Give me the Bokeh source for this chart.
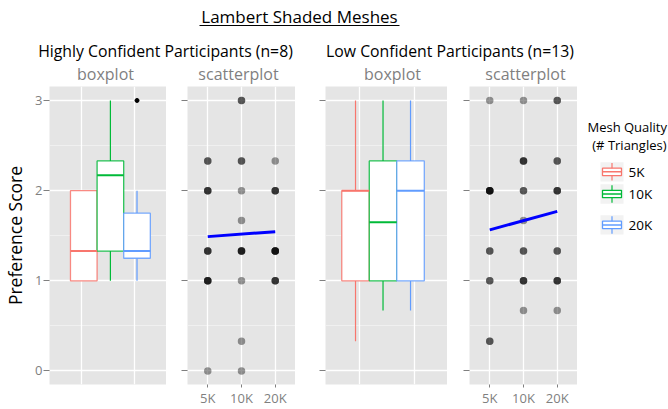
import numpy as np
from bokeh.plotting import figure
from bokeh.layouts import row, column
from bokeh.models import Range1d, FixedTicker, Label, LinearAxis, Grid
from bokeh.embed import file_html
from bokeh.resources import INLINE

FONT = "Open Sans"
GRAY = "#7F7F7F"
BG = "#E5E5E5"

# ---------------- data ----------------
groups = ["5K", "10K", "20K"]
colors = ["#F8766D", "#00BA38", "#619CFF"]
y_ticks = [0, 1, 2, 3]

# boxplot statistics (Highly confident, n=8)
hi_low = [1.0, 1.0, 1.0]
hi_q1 = [1.0, 1.33, 1.25]
hi_med = [1.33, 2.17, 1.33]
hi_q3 = [2.0, 2.33, 1.75]
hi_up = [2.0, 3.0, 2.0]
hi_out_group = ["20K"]
hi_out_y = [3.0]

# boxplot statistics (Low confident, n=13)
lo_low = [0.33, 0.67, 0.67]
lo_q1 = [1.0, 1.0, 1.0]
lo_med = [2.0, 1.65, 2.0]
lo_q3 = [2.0, 2.33, 2.33]
lo_up = [3.0, 3.0, 3.0]

# scatter points (value, number of overlapping points)
hi_sc_x = ["5K"] * 5 + ["10K"] * 8 + ["20K"] * 4
hi_sc_y = [2.33, 2.0, 1.33, 1.0, 0.0,
           3.0, 2.33, 2.0, 1.67, 1.33, 1.0, 0.33, 0.0,
           2.33, 2.0, 1.33, 1.0]
hi_sc_n = [2, 3, 3, 4, 1,
           2, 2, 1, 1, 4, 1, 1, 1,
           1, 3, 5, 3]

lo_sc_x = ["5K"] * 5 + ["10K"] * 7 + ["20K"] * 6
lo_sc_y = [3.0, 2.0, 1.33, 1.0, 0.33,
           3.0, 2.33, 2.0, 1.67, 1.33, 1.0, 0.67,
           3.0, 2.33, 2.0, 1.33, 1.0, 0.67]
lo_sc_n = [1, 5, 2, 2, 2,
           1, 3, 2, 1, 2, 3, 1,
           2, 2, 3, 2, 3, 1]

# linear fit ends (at 5K and 20K)
hi_fit = [1.49, 1.545]
lo_fit = [1.565, 1.77]

# ---------------- layout constants ----------------
TH = 86           # title strip height
PH = 409 - TH     # panel row height
BOT = 22
YLO, YHI = -0.15, 3.155
gidx = {g: i + 1 for i, g in enumerate(groups)}


def make_panel(width, left, xr, ylab=False, xlab=False, xgrid=None):
    p = figure(width=width, height=PH, x_range=xr, y_range=Range1d(YLO, YHI),
               output_backend="svg", toolbar_location=None,
               x_axis_location=None, y_axis_location=None,
               min_border_left=left, min_border_right=0,
               min_border_top=0, min_border_bottom=BOT)
    p.background_fill_color = BG
    p.border_fill_color = "white"
    p.outline_line_color = None
    p.grid.visible = False
    p.add_layout(Grid(dimension=1, ticker=FixedTicker(ticks=y_ticks, minor_ticks=[0.5, 1.5, 2.5]),
                      grid_line_color="white", grid_line_width=1.3,
                      minor_grid_line_color="#F2F2F2", minor_grid_line_width=0.8))
    p.add_layout(Grid(dimension=0, ticker=FixedTicker(ticks=xgrid, minor_ticks=[]),
                      grid_line_color="white", grid_line_width=1.3))
    yax = LinearAxis(ticker=FixedTicker(ticks=y_ticks, minor_ticks=[]),
                     axis_line_color=None, major_tick_line_color=GRAY,
                     major_tick_out=6, major_tick_in=0, minor_tick_line_color=None,
                     major_label_text_font=FONT, major_label_standoff=1)
    if ylab:
        yax.major_label_text_color = GRAY
        yax.major_label_text_font_size = "13px"
        yax.axis_label = "Preference Score"
        yax.axis_label_text_font = FONT
        yax.axis_label_text_font_size = "17.5px"
        yax.axis_label_text_font_style = "normal"
        yax.axis_label_text_color = "black"
        yax.axis_label_standoff = 5
    else:
        yax.major_label_text_color = None
        yax.major_label_text_font_size = "1px"
    p.add_layout(yax, "left")
    if xlab:
        xax = LinearAxis(ticker=FixedTicker(ticks=[1, 2, 3], minor_ticks=[]),
                         major_label_overrides={1: groups[0], 2: groups[1], 3: groups[2]},
                         axis_line_color=None, major_tick_line_color=GRAY,
                         major_tick_out=3, major_tick_in=0, minor_tick_line_color=None,
                         major_label_text_color=GRAY, major_label_text_font=FONT,
                         major_label_text_font_size="13px", major_label_standoff=1)
        p.add_layout(xax, "below")
    return p


def draw_box(p, start, step, low, q1, med, q3, up):
    c = np.array([start + i * step for i in range(len(groups))])
    half = step / 2
    p.segment(x0=c, x1=c, y0=q3, y1=up, line_color=colors, line_width=1.2)
    p.segment(x0=c, x1=c, y0=low, y1=q1, line_color=colors, line_width=1.2)
    p.quad(left=c - half, right=c + half, bottom=q1, top=q3,
           fill_color="white", line_color=colors, line_width=1.3, line_alpha=0.85)
    p.segment(x0=c - half, x1=c + half, y0=med, y1=med, line_color=colors, line_width=2)
    return c


def draw_scatter(p, xs, ys, ns, fit):
    x = np.repeat([gidx[g] for g in xs], ns)
    y = np.repeat(ys, ns)
    p.scatter(x=x, y=y, size=7.5, fill_color="black", fill_alpha=0.4, line_color=None)
    p.line(x=[1, 3], y=fit, line_color="#0000FF", line_width=3)


# panel 1: highly boxplot
f1 = make_panel(166, 45, Range1d(0, 1), ylab=True, xgrid=[0.273, 0.727])
c1 = draw_box(f1, 0.293, 0.2275, hi_low, hi_q1, hi_med, hi_q3, hi_up)
f1.scatter(x=[c1[groups.index(g)] for g in hi_out_group], y=hi_out_y, size=4, color="black")

# panel 2: highly scatter
f2 = make_panel(129, 21, Range1d(0.4, 3.6), xlab=True, xgrid=[1, 2, 3])
draw_scatter(f2, hi_sc_x, hi_sc_y, hi_sc_n, hi_fit)

# panel 3: low boxplot
f3 = make_panel(152, 30, Range1d(0, 1), xgrid=[0.279, 0.73])
draw_box(f3, 0.246, 0.2255, lo_low, lo_q1, lo_med, lo_q3, lo_up)

# panel 4: low scatter
f4 = make_panel(130, 22, Range1d(0.4, 3.6), xlab=True, xgrid=[1, 2, 3])
draw_scatter(f4, lo_sc_x, lo_sc_y, lo_sc_n, lo_fit)

# legend figure (pixel coordinates)
LW = 668 - 577
leg = figure(width=LW, height=PH, x_range=Range1d(0, LW), y_range=Range1d(PH, 0),
             output_backend="svg", toolbar_location=None,
             x_axis_location=None, y_axis_location=None, min_border=0)
leg.outline_line_color = None
leg.grid.visible = False
leg.add_layout(Label(x=89.5, y=44, text="Mesh Quality", text_align="right", text_baseline="middle",
                     text_font=FONT, text_font_size="13px", text_color="black"))
leg.add_layout(Label(x=89, y=63, text="(# Triangles)", text_align="right", text_baseline="middle",
                     text_font=FONT, text_font_size="13px", text_color="black"))
key_y = [92.5, 116.5, 150]
kx0, kx1 = 23, 46
bx0, bx1 = 25, 44
kc = (kx0 + kx1) / 2
for ky, col, g in zip(key_y, colors, groups):
    leg.quad(left=kx0, right=kx1, top=ky - 10.5, bottom=ky + 10.5, fill_color="#F2F2F2", line_color=None)
    leg.segment(x0=kc, x1=kc, y0=ky - 9.5, y1=ky + 9.5, line_color=col, line_width=1.2)
    leg.quad(left=bx0, right=bx1, top=ky - 4, bottom=ky + 4, fill_color="white", line_color=col, line_width=1.3)
    leg.segment(x0=bx0, x1=bx1, y0=ky, y1=ky, line_color=col, line_width=1.5)
    leg.add_layout(Label(x=51, y=ky, text=g, text_align="left", text_baseline="middle",
                         text_font=FONT, text_font_size="13.5px", text_color="black"))

# title strip (pixel coordinates)
tf = figure(width=668, height=TH, x_range=Range1d(0, 668), y_range=Range1d(TH, 0),
            output_backend="svg", toolbar_location=None,
            x_axis_location=None, y_axis_location=None, min_border=0)
tf.outline_line_color = None
tf.grid.visible = False
tf.add_layout(Label(x=299, y=16, text="Lambert Shaded Meshes", text_align="center",
                    text_baseline="alphabetic", text_font=FONT, text_font_size="17px", text_color="black"))
tf.segment(x0=[199], x1=[399], y0=[25], y1=[25], line_color="black", line_width=1.2)
tf.add_layout(Label(x=165, y=50, text="Highly Confident Participants (n=8)", text_align="center",
                    text_baseline="alphabetic", text_font=FONT, text_font_size="15.8px", text_color="black"))
tf.add_layout(Label(x=449.5, y=50, text="Low Confident Participants (n=13)", text_align="center",
                    text_baseline="alphabetic", text_font=FONT, text_font_size="15.8px", text_color="black"))
for cx, t in [(105, "boxplot"), (238, "scatterplot"), (392, "boxplot"), (525, "scatterplot")]:
    tf.add_layout(Label(x=cx, y=73, text=t, text_align="center", text_baseline="alphabetic",
                        text_font=FONT, text_font_size="16px", text_color=GRAY))

layout = column(tf, row(f1, f2, f3, f4, leg, spacing=0), spacing=0)
open("out.html", "w").write(file_html(layout, INLINE))
